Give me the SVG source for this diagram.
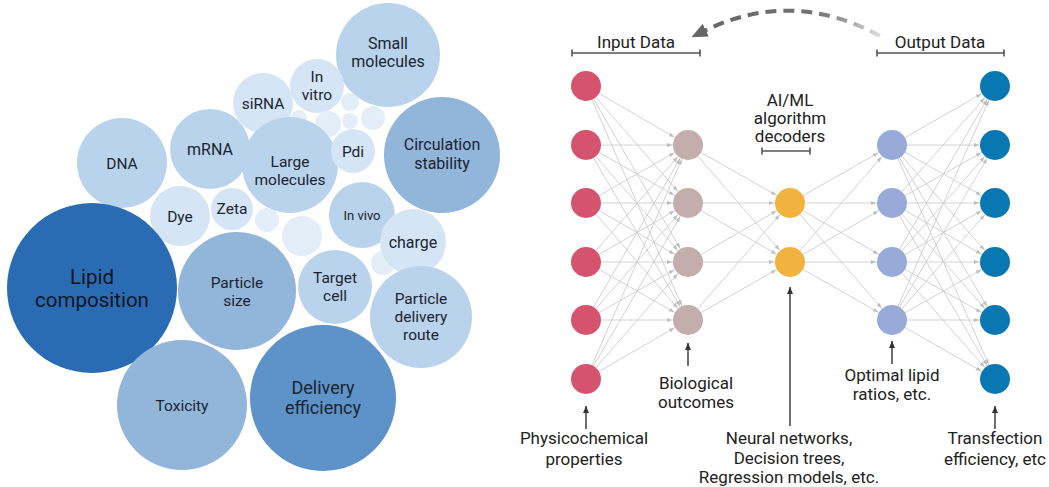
<svg xmlns="http://www.w3.org/2000/svg" width="1049" height="487" viewBox="0 0 1049 487">
<style>
text{font-family:Roboto,"Liberation Sans",sans-serif;fill:#1b2431;text-anchor:middle}
.b0{fill:#2a6cb4}.b1{fill:#5d93c8}.b2{fill:#92b5da}.b3{fill:#bad3ec}.b4{fill:#d5e5f5}.b5{fill:#e3eef9}
.t15{font-size:15.5px}.t16{font-size:16px}
.e{stroke:#cdcdcd;stroke-width:0.9;marker-end:url(#ah)}
.br{stroke:#555;stroke-width:1.6;fill:none}
.ka{stroke:#333;stroke-width:1.4;marker-end:url(#ka)}
.r{font-size:17px;fill:#222}
.nr{fill:#d5536f}.nb{fill:#c4aead}.no{fill:#f1b33e}.nl{fill:#98abd8}.nu{fill:#0977b1}
</style>
<defs>
<marker id="ah" markerUnits="userSpaceOnUse" viewBox="0 -3 30 6" markerWidth="30" markerHeight="6" refX="30" refY="0" orient="auto"><path d="M9,-2 L14,0 L9,2 z" fill="#bdbdbd"/></marker>
<marker id="ka" markerUnits="userSpaceOnUse" viewBox="0 -3 7 6" markerWidth="7" markerHeight="6" refX="7" refY="0" orient="auto"><path d="M0,-3 L7,0 L0,3 z" fill="#333"/></marker>
<marker id="dh" markerUnits="userSpaceOnUse" viewBox="0 -7 16 14" markerWidth="16" markerHeight="14" refX="2" refY="0" orient="auto"><path d="M0,-7 L16,0 L0,7 z" fill="#666"/></marker>
<linearGradient id="dg" gradientUnits="userSpaceOnUse" x1="880" y1="0" x2="700" y2="0">
<stop offset="0" stop-color="#dedede"/><stop offset="0.2" stop-color="#9a9a9a"/><stop offset="0.35" stop-color="#727272"/><stop offset="1" stop-color="#666"/>
</linearGradient>
</defs>

<!-- Bubble chart -->
<g id="bubbles">
<g id="b-small-molecules"><circle cx="388" cy="55" r="52" class="b3"/><text class="t16" x="388" y="49">Small</text><text class="t16" x="388" y="67">molecules</text></g>
<g id="b-in-vitro"><circle cx="317" cy="86" r="27" class="b4"/><text class="t15" x="317" y="82">In</text><text class="t15" x="317" y="100">vitro</text></g>
<g id="b-sirna"><circle cx="263" cy="103" r="30" class="b4"/><text class="t15" x="263" y="109">siRNA</text></g>
<g id="b-e1"><circle cx="350" cy="102" r="9" class="b5"/></g>
<g id="b-e2"><circle cx="299" cy="118" r="8" class="b5"/></g>
<g id="b-e3"><circle cx="328" cy="124" r="13" class="b5"/></g>
<g id="b-e4"><circle cx="350" cy="121" r="8" class="b5"/></g>
<g id="b-e5"><circle cx="373" cy="118" r="12" class="b5"/></g>
<g id="b-circulation"><circle cx="442" cy="155" r="58" class="b2"/><text class="t16" x="442" y="150">Circulation</text><text class="t16" x="442" y="169">stability</text></g>
<g id="b-dna"><circle cx="122" cy="163" r="45" class="b3"/><text class="t15" x="122" y="169">DNA</text></g>
<g id="b-mrna"><circle cx="210" cy="149" r="40" class="b3"/><text class="t16" x="210" y="155">mRNA</text></g>
<g id="b-large"><circle cx="290" cy="165" r="48" class="b3"/><text class="t15" x="290" y="167">Large</text><text class="t15" x="290" y="185">molecules</text></g>
<g id="b-pdi"><circle cx="353" cy="151" r="22" class="b4"/><text class="t15" x="353" y="157">Pdi</text></g>
<g id="b-dye"><circle cx="180" cy="216" r="30" class="b4"/><text class="t15" x="180" y="222">Dye</text></g>
<g id="b-zeta"><circle cx="232" cy="209" r="21" class="b4"/><text class="t15" x="232" y="214">Zeta</text></g>
<g id="b-e6"><circle cx="267" cy="220" r="12" class="b5"/></g>
<g id="b-e7"><circle cx="302" cy="236" r="20" class="b5"/></g>
<g id="b-invivo"><circle cx="362" cy="215" r="33" class="b3"/><text x="362" y="220" style="font-size:13px">In vivo</text></g>
<g id="b-e8"><circle cx="383" cy="263" r="12" class="b5"/></g>
<g id="b-charge"><circle cx="413" cy="242" r="33" class="b4"/><text class="t16" x="413" y="248">charge</text></g>
<g id="b-lipid"><circle cx="92" cy="288" r="85" class="b0"/><text x="92" y="284" style="font-size:20.5px;fill:#0d1520">Lipid</text><text x="92" y="307" style="font-size:20.5px;fill:#0d1520">composition</text></g>
<g id="b-particle-size"><circle cx="237" cy="291" r="59" class="b2"/><text class="t15" x="237" y="288">Particle</text><text class="t15" x="237" y="306">size</text></g>
<g id="b-target"><circle cx="335" cy="287" r="37" class="b3"/><text class="t15" x="335" y="283">Target</text><text class="t15" x="335" y="301">cell</text></g>
<g id="b-route"><circle cx="421" cy="317" r="51" class="b3"/><text class="t15" x="421" y="304">Particle</text><text class="t15" x="421" y="322">delivery</text><text class="t15" x="421" y="340">route</text></g>
<g id="b-toxicity"><circle cx="182" cy="405" r="65" class="b2"/><text class="t15" x="182" y="411">Toxicity</text></g>
<g id="b-delivery"><circle cx="323" cy="398" r="73" class="b1"/><text x="323" y="394" style="font-size:18px">Delivery</text><text x="323" y="414" style="font-size:18px">efficiency</text></g>
</g>

<!-- Connectors -->
<g id="connectors">
<line class="e" x1="586" y1="86" x2="688" y2="145"/><line class="e" x1="586" y1="86" x2="688" y2="203"/><line class="e" x1="586" y1="86" x2="688" y2="262"/><line class="e" x1="586" y1="86" x2="688" y2="320"/>
<line class="e" x1="586" y1="145" x2="688" y2="145"/><line class="e" x1="586" y1="145" x2="688" y2="203"/><line class="e" x1="586" y1="145" x2="688" y2="262"/><line class="e" x1="586" y1="145" x2="688" y2="320"/>
<line class="e" x1="586" y1="203" x2="688" y2="145"/><line class="e" x1="586" y1="203" x2="688" y2="203"/><line class="e" x1="586" y1="203" x2="688" y2="262"/><line class="e" x1="586" y1="203" x2="688" y2="320"/>
<line class="e" x1="586" y1="262" x2="688" y2="145"/><line class="e" x1="586" y1="262" x2="688" y2="203"/><line class="e" x1="586" y1="262" x2="688" y2="262"/><line class="e" x1="586" y1="262" x2="688" y2="320"/>
<line class="e" x1="586" y1="320" x2="688" y2="145"/><line class="e" x1="586" y1="320" x2="688" y2="203"/><line class="e" x1="586" y1="320" x2="688" y2="262"/><line class="e" x1="586" y1="320" x2="688" y2="320"/>
<line class="e" x1="586" y1="379" x2="688" y2="145"/><line class="e" x1="586" y1="379" x2="688" y2="203"/><line class="e" x1="586" y1="379" x2="688" y2="262"/><line class="e" x1="586" y1="379" x2="688" y2="320"/>
<line class="e" x1="688" y1="145" x2="790" y2="203"/><line class="e" x1="688" y1="145" x2="790" y2="262"/>
<line class="e" x1="688" y1="203" x2="790" y2="203"/><line class="e" x1="688" y1="203" x2="790" y2="262"/>
<line class="e" x1="688" y1="262" x2="790" y2="203"/><line class="e" x1="688" y1="262" x2="790" y2="262"/>
<line class="e" x1="688" y1="320" x2="790" y2="203"/><line class="e" x1="688" y1="320" x2="790" y2="262"/>
<line class="e" x1="790" y1="203" x2="892" y2="145"/><line class="e" x1="790" y1="203" x2="892" y2="203"/><line class="e" x1="790" y1="203" x2="892" y2="262"/><line class="e" x1="790" y1="203" x2="892" y2="320"/>
<line class="e" x1="790" y1="262" x2="892" y2="145"/><line class="e" x1="790" y1="262" x2="892" y2="203"/><line class="e" x1="790" y1="262" x2="892" y2="262"/><line class="e" x1="790" y1="262" x2="892" y2="320"/>
<line class="e" x1="892" y1="145" x2="995" y2="86"/><line class="e" x1="892" y1="145" x2="995" y2="145"/><line class="e" x1="892" y1="145" x2="995" y2="203"/><line class="e" x1="892" y1="145" x2="995" y2="262"/><line class="e" x1="892" y1="145" x2="995" y2="320"/><line class="e" x1="892" y1="145" x2="995" y2="379"/>
<line class="e" x1="892" y1="203" x2="995" y2="86"/><line class="e" x1="892" y1="203" x2="995" y2="145"/><line class="e" x1="892" y1="203" x2="995" y2="203"/><line class="e" x1="892" y1="203" x2="995" y2="262"/><line class="e" x1="892" y1="203" x2="995" y2="320"/><line class="e" x1="892" y1="203" x2="995" y2="379"/>
<line class="e" x1="892" y1="262" x2="995" y2="86"/><line class="e" x1="892" y1="262" x2="995" y2="145"/><line class="e" x1="892" y1="262" x2="995" y2="203"/><line class="e" x1="892" y1="262" x2="995" y2="262"/><line class="e" x1="892" y1="262" x2="995" y2="320"/><line class="e" x1="892" y1="262" x2="995" y2="379"/>
<line class="e" x1="892" y1="320" x2="995" y2="86"/><line class="e" x1="892" y1="320" x2="995" y2="145"/><line class="e" x1="892" y1="320" x2="995" y2="203"/><line class="e" x1="892" y1="320" x2="995" y2="262"/><line class="e" x1="892" y1="320" x2="995" y2="320"/><line class="e" x1="892" y1="320" x2="995" y2="379"/>
<path d="M880,36 Q792,-12 704,31" fill="none" stroke="url(#dg)" stroke-width="4" stroke-dasharray="11 7" marker-end="url(#dh)"/>
<line class="ka" x1="586" y1="429" x2="586" y2="406"/>
<line class="ka" x1="688" y1="366" x2="688" y2="343"/>
<line class="ka" x1="790" y1="426" x2="790" y2="287"/>
<line class="ka" x1="892" y1="364" x2="892" y2="341"/>
<line class="ka" x1="995" y1="429" x2="995" y2="406"/>
</g>

<!-- Network nodes -->
<g id="input-layer">
<circle id="in1" class="nr" cx="586" cy="86" r="15"/><circle id="in2" class="nr" cx="586" cy="145" r="15"/><circle id="in3" class="nr" cx="586" cy="203" r="15"/><circle id="in4" class="nr" cx="586" cy="262" r="15"/><circle id="in5" class="nr" cx="586" cy="320" r="15"/><circle id="in6" class="nr" cx="586" cy="379" r="15"/>
</g>
<g id="bio-layer">
<circle id="h1" class="nb" cx="688" cy="145" r="15"/><circle id="h2" class="nb" cx="688" cy="203" r="15"/><circle id="h3" class="nb" cx="688" cy="262" r="15"/><circle id="h4" class="nb" cx="688" cy="320" r="15"/>
</g>
<g id="algo-layer">
<circle id="a1" class="no" cx="790" cy="203" r="15"/><circle id="a2" class="no" cx="790" cy="262" r="15"/>
</g>
<g id="ratio-layer">
<circle id="l1" class="nl" cx="892" cy="145" r="15"/><circle id="l2" class="nl" cx="892" cy="203" r="15"/><circle id="l3" class="nl" cx="892" cy="262" r="15"/><circle id="l4" class="nl" cx="892" cy="320" r="15"/>
</g>
<g id="output-layer">
<circle id="o1" class="nu" cx="995" cy="86" r="15"/><circle id="o2" class="nu" cx="995" cy="145" r="15"/><circle id="o3" class="nu" cx="995" cy="203" r="15"/><circle id="o4" class="nu" cx="995" cy="262" r="15"/><circle id="o5" class="nu" cx="995" cy="320" r="15"/><circle id="o6" class="nu" cx="995" cy="379" r="15"/>
</g>

<!-- Labels -->
<g id="input-data-label"><text class="r" x="636" y="48">Input Data</text><path class="br" d="M572,49.5 V56.5 M572,53 H700 M700,49.5 V56.5"/></g>
<g id="output-data-label"><text class="r" x="940" y="48">Output Data</text><path class="br" d="M877,49.5 V56.5 M877,53 H1004 M1004,49.5 V56.5"/></g>
<g id="algo-label"><text class="r" x="790" y="106">AI/ML</text><text class="r" x="790" y="124">algorithm</text><text class="r" x="790" y="142">decoders</text><path class="br" d="M762,147.5 V154.5 M762,151 H810 M810,147.5 V154.5"/></g>
<g id="physchem-label"><text class="r" x="584" y="444">Physicochemical</text><text class="r" x="584" y="465">properties</text></g>
<g id="bio-label"><text class="r" x="696" y="389">Biological</text><text class="r" x="696" y="408">outcomes</text></g>
<g id="nn-label"><text class="r" x="789" y="444">Neural networks,</text><text class="r" x="789" y="464">Decision trees,</text><text class="r" x="789" y="483">Regression models, etc.</text></g>
<g id="ratio-label"><text class="r" x="892" y="381">Optimal lipid</text><text class="r" x="892" y="400">ratios, etc.</text></g>
<g id="transfection-label"><text class="r" x="995" y="444">Transfection</text><text class="r" x="995" y="465">efficiency, etc</text></g>
</svg>
